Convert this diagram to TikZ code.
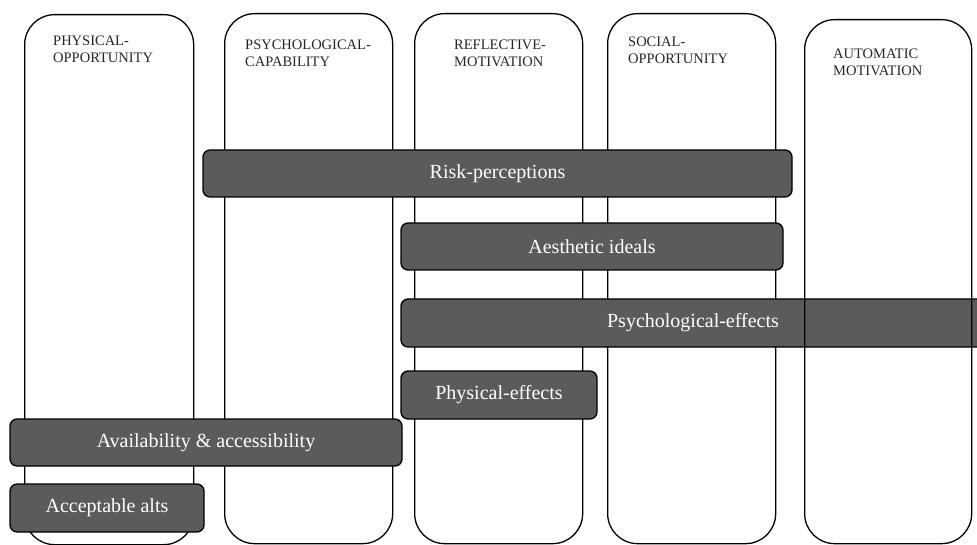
\documentclass[tikz,border=0pt]{standalone}
\usepackage{fontspec}
\setmainfont{Liberation Serif}
\definecolor{barfill}{RGB}{91,91,93}
\begin{document}
\begin{tikzpicture}[x=1pt,y=-1pt,
  lane/.style={draw=black, line width=1.3pt, rounded corners=30pt,
    inner sep=0pt, anchor=north west},
  lanetitle/.style={anchor=north west, inner sep=0pt, align=left,
    font=\fontsize{14.5}{16.5}\selectfont, text=black!85},
  bar/.style={draw=black, line width=1.3pt, fill=barfill, rounded corners=7pt,
    inner sep=0pt, text=white, font=\fontsize{20}{22}\selectfont},
]
\useasboundingbox (0,0) rectangle (977,545);
\clip (0,0) rectangle (977,545);

% columns
\node[lane, minimum width=169pt, minimum height=530pt] (c1) at (24,14) {};
\node[lane, minimum width=168pt, minimum height=530pt] (c2) at (224,13) {};
\node[lane, minimum width=168pt, minimum height=530pt] (c3) at (414,13) {};
\node[lane, minimum width=168pt, minimum height=530pt] (c4) at (607,13) {};

\node[lanetitle] (t1) at (53,36) {PHYSICAL-\\OPPORTUNITY};
\node[lanetitle] (t2) at (245,40) {PSYCHOLOGICAL-\\CAPABILITY};
\node[lanetitle] (t3) at (454,40) {REFLECTIVE-\\MOTIVATION};
\node[lanetitle] (t4) at (628,37) {SOCIAL-\\OPPORTUNITY};
\node[lanetitle] (t5) at (833,49) {AUTOMATIC\\MOTIVATION};

% themes spanning the columns
\node[bar, minimum width=589pt, minimum height=47pt] (risk) at (497.5,173.5) {Risk-perceptions};
\node[bar, minimum width=382pt, minimum height=47pt] (aes) at (592,246.5) {Aesthetic ideals};
\node[bar, minimum width=584pt, minimum height=48pt] (psy) at (693,323) {Psychological-effects};
\node[bar, minimum width=196pt, minimum height=48pt] (phy) at (499,395) {Physical-effects};
\node[bar, minimum width=392pt, minimum height=47pt] (avail) at (206,442.5) {Availability \& accessibility};
\node[bar, minimum width=194pt, minimum height=48pt] (alts) at (107,508) {Acceptable alts};

% last column drawn over the bars
\node[lane, minimum width=167pt, minimum height=524pt] (c5) at (804,19) {};
\end{tikzpicture}
\end{document}
